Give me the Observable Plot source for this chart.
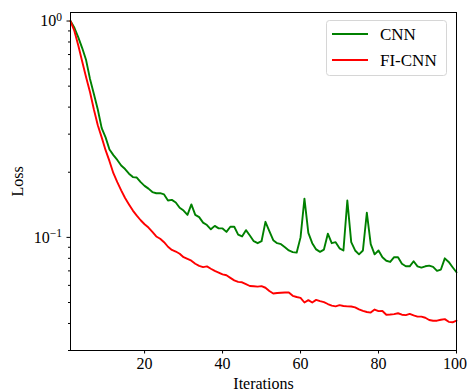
<!DOCTYPE html>
<html>
<head>
<meta charset="utf-8">
<script src="https://cdn.jsdelivr.net/npm/d3@7"></script>
<script src="https://cdn.jsdelivr.net/npm/@observablehq/plot@0.6"></script>
<style>
  html, body { margin: 0; padding: 0; background: #fff; }
</style>
</head>
<body>
<div id="chart"></div>
<script>
const seriesNames = ["CNN", "FI-CNN"];
const seriesColors = ["#008000", "#ff0000"];

const cnnLoss = [
  1.0, 0.93, 0.84, 0.75, 0.66, 0.54, 0.46, 0.39, 0.32, 0.29,
  0.255, 0.24, 0.228, 0.215, 0.207, 0.197, 0.19, 0.189, 0.18, 0.173,
  0.168, 0.162, 0.16, 0.16, 0.158, 0.148, 0.149, 0.145, 0.137, 0.133,
  0.127, 0.142, 0.127, 0.124, 0.117, 0.114, 0.109, 0.113, 0.11, 0.11,
  0.106, 0.112, 0.112, 0.103, 0.101, 0.108, 0.102, 0.096, 0.094, 0.096,
  0.118, 0.107, 0.097, 0.094, 0.093, 0.09, 0.087, 0.0855, 0.085, 0.1,
  0.151, 0.105, 0.094, 0.088, 0.0857, 0.0878, 0.104, 0.094, 0.095, 0.089,
  0.087, 0.148, 0.095, 0.087, 0.0835, 0.087, 0.13, 0.093, 0.0835, 0.087,
  0.081, 0.078, 0.077, 0.081, 0.081, 0.0755, 0.0735, 0.0735, 0.0776, 0.0735,
  0.0725, 0.0735, 0.074, 0.073, 0.070, 0.071, 0.080, 0.077, 0.0728, 0.069
];

const fiCnnLoss = [
  1.0, 0.9, 0.77, 0.65, 0.55, 0.47, 0.39, 0.33, 0.29, 0.253,
  0.225, 0.198, 0.18, 0.165, 0.152, 0.142, 0.133, 0.126, 0.12, 0.115,
  0.111, 0.106, 0.101, 0.0985, 0.095, 0.0905, 0.0875, 0.086, 0.084, 0.081,
  0.0795, 0.078, 0.0755, 0.0738, 0.0729, 0.0734, 0.0716, 0.07, 0.0688, 0.0675,
  0.0668, 0.065, 0.0633, 0.0623, 0.062, 0.0608, 0.0596, 0.0594, 0.0592, 0.0595,
  0.0585, 0.0565, 0.055, 0.0553, 0.0555, 0.0556, 0.0556, 0.0537, 0.053, 0.0525,
  0.05, 0.0513, 0.05, 0.0514, 0.0507, 0.0502, 0.0492, 0.0484, 0.048, 0.0486,
  0.0482, 0.048, 0.0479, 0.0475, 0.0465, 0.0457, 0.0452, 0.0449, 0.0464, 0.0456,
  0.0457, 0.0439, 0.044, 0.0442, 0.0446, 0.0439, 0.0437, 0.0443, 0.0436, 0.043,
  0.043, 0.0425, 0.0415, 0.0412, 0.0412, 0.0416, 0.0419, 0.0407, 0.0405, 0.0412
];

const xTicks = [20, 40, 60, 80, 100];
const yMajorTicks = [1, 0.1];
const yMajorLabels = ["0", "−1"];
const yMinorTicks = [0.9, 0.8, 0.7, 0.6, 0.5, 0.4, 0.3, 0.2, 0.09, 0.08, 0.07, 0.06, 0.05, 0.04, 0.03];

const rows = [];
cnnLoss.forEach((v, i) => rows.push({iter: i + 1, loss: v, series: seriesNames[0]}));
fiCnnLoss.forEach((v, i) => rows.push({iter: i + 1, loss: v, series: seriesNames[1]}));

const FONT = "'Liberation Serif', 'Times New Roman', serif";

const chart = Plot.plot({
  width: 467,
  height: 391,
  marginLeft: 70,
  marginRight: 11,
  marginTop: 12,
  marginBottom: 41,
  style: {fontFamily: FONT, fontSize: "16px", background: "#fff", color: "#000", overflow: "visible"},
  x: {domain: [1, 100]},
  y: {type: "log", domain: [0.03, 1.095]},
  color: {domain: seriesNames, range: seriesColors},
  marks: [
    Plot.axisX(xTicks, {tickSize: 3.5, tickPadding: 4, label: "Iterations", labelAnchor: "center", labelArrow: "none", labelOffset: 38, fontSize: 16, strokeWidth: 1}),
    Plot.axisY(yMajorTicks, {tickSize: 3.5, tickPadding: 5, tickFormat: (d) => "10^" + yMajorLabels[yMajorTicks.indexOf(d)], label: "Loss", labelAnchor: "center", labelArrow: "none", labelOffset: 59, fontSize: 16}),
    Plot.axisY(yMinorTicks, {tickSize: 2, tickFormat: () => "", label: null}),
    Plot.line(rows, {x: "iter", y: "loss", stroke: "series", z: "series", strokeWidth: 1.9, strokeLinejoin: "round"}),
    Plot.frame({stroke: "#000", strokeWidth: 1})
  ]
});

document.getElementById("chart").appendChild(chart);

const svg = d3.select(chart);

// superscript exponents on y tick labels; keep the last x tick label inside the picture
svg.selectAll("text").each(function() {
  const t = d3.select(this);
  const tspans = t.selectAll("tspan");
  const nodes = tspans.empty() ? [this] : tspans.nodes();
  nodes.forEach(n => {
    const s = n.textContent;
    if (s.startsWith("10^")) {
      const exp = s.slice(3);
      const el = d3.select(n);
      el.text("10");
      el.append("tspan").attr("dy", "-0.45em").attr("font-size", "0.72em").text(exp);
    } else if (s === "100") {
      d3.select(n).attr("dx", "-1.5");
    }
  });
});

// legend
const lg = svg.append("g").attr("font-family", FONT).attr("font-size", "17px").attr("text-anchor", "start");
lg.append("rect").attr("x", 326.5).attr("y", 20.5).attr("width", 120).attr("height", 55)
  .attr("rx", 3).attr("fill", "#fff").attr("fill-opacity", 0.8).attr("stroke", "#d6d6d6");
seriesNames.forEach((name, i) => {
  const y = 34 + i * 26;
  lg.append("line").attr("x1", 332).attr("x2", 368).attr("y1", y).attr("y2", y)
    .attr("stroke", seriesColors[i]).attr("stroke-width", 1.9);
  lg.append("text").attr("x", 380).attr("y", y + 6).attr("fill", "#000").attr("text-anchor", "start").text(name);
});
</script>
</body>
</html>
